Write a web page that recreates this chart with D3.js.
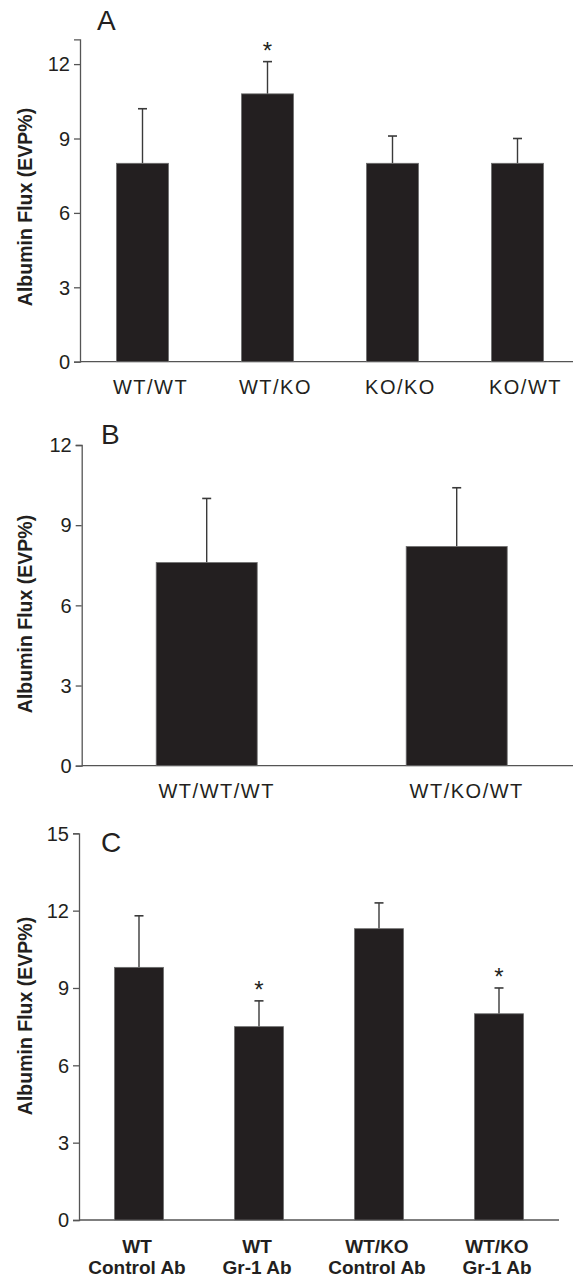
<!DOCTYPE html>
<html>
<head>
<meta charset="utf-8">
<script src="https://cdn.jsdelivr.net/npm/d3@7"></script>
<style>
  html, body { margin: 0; padding: 0; background: #fff; }
  svg { display: block; }
  text { font-family: Arial, "Liberation Sans", Helvetica, sans-serif; fill: #231f20; }
</style>
</head>
<body>
<svg id="chart" width="574" height="1279"></svg>
<script>
// ---- Data ----
const categoriesA = ["WT/WT", "WT/KO", "KO/KO", "KO/WT"];
const valuesA = [8.0, 10.8, 8.0, 8.0];
const errorsA = [2.2, 1.3, 1.1, 1.0];
const starsA = [false, true, false, false];
const ticksA = [0, 3, 6, 9, 12];

const categoriesB = ["WT/WT/WT", "WT/KO/WT"];
const valuesB = [7.6, 8.2];
const errorsB = [2.4, 2.2];
const starsB = [false, false];
const ticksB = [0, 3, 6, 9, 12];

const categoriesC = [["WT", "Control Ab"], ["WT", "Gr-1 Ab"], ["WT/KO", "Control Ab"], ["WT/KO", "Gr-1 Ab"]];
const valuesC = [9.8, 7.5, 11.3, 8.0];
const errorsC = [2.0, 1.0, 1.0, 1.0];
const starsC = [false, true, false, true];
const ticksC = [0, 3, 6, 9, 12, 15];

const yTitle = "Albumin Flux (EVP%)";

// ---- Drawing ----
const svg = d3.select("#chart");
const axisColor = "#555";
const barColor = "#231f20";

function panel(cfg) {
  const g = svg.append("g");
  const y = d3.scaleLinear().domain([0, cfg.yMax]).range([cfg.y0, cfg.yTop]);
  const x = d3.scalePoint().domain(d3.range(cfg.values.length)).range([cfg.x0, cfg.x0 + cfg.step * cfg.values.length]).padding(0.5);

  // y axis
  const yAxis = d3.axisLeft(y).tickValues(cfg.ticks).tickSize(6).tickPadding(4).tickFormat(d3.format("d"));
  const ya = g.append("g").attr("transform", `translate(${cfg.x0},0)`).call(yAxis);
  ya.attr("font-size", null).attr("font-family", null);
  ya.select(".domain").attr("stroke", axisColor).attr("stroke-width", 1.3);
  ya.selectAll(".tick line").attr("stroke", axisColor).attr("stroke-width", 1.3);
  ya.selectAll(".tick text").style("font-size", "20px").attr("fill", "#231f20").attr("dy", "0.34em");

  // x axis baseline
  g.append("line")
    .attr("x1", cfg.x0).attr("x2", cfg.xEnd)
    .attr("y1", y(0)).attr("y2", y(0))
    .attr("stroke", axisColor).attr("stroke-width", 1.3);

  // error bars
  cfg.values.forEach((v, i) => {
    const cx = x(i);
    g.append("line").attr("x1", cx).attr("x2", cx)
      .attr("y1", y(v)).attr("y2", y(v + cfg.errors[i]))
      .attr("stroke", "#3a3a3a").attr("stroke-width", 1.4);
    g.append("line").attr("x1", cx - 4.5).attr("x2", cx + 4.5)
      .attr("y1", y(v + cfg.errors[i])).attr("y2", y(v + cfg.errors[i]))
      .attr("stroke", "#3a3a3a").attr("stroke-width", 1.6);
    if (cfg.stars[i]) {
      g.append("text").attr("x", cx).attr("y", y(v + cfg.errors[i]) - 3)
        .attr("text-anchor", "middle").style("font-size", "24px").text("*");
    }
  });

  // bars
  g.selectAll("rect.bar").data(cfg.values).join("rect")
    .attr("class", "bar")
    .attr("x", (d, i) => x(i) - cfg.barW / 2)
    .attr("width", cfg.barW)
    .attr("y", d => y(d))
    .attr("height", d => y(0) - y(d))
    .attr("fill", barColor)
    .attr("stroke", "#6d6d6d").attr("stroke-width", 0.8);

  // x labels
  cfg.categories.forEach((c, i) => {
    const lines = Array.isArray(c) ? c : [c];
    const t = g.append("text")
      .attr("x", x(i) + cfg.labelDx)
      .attr("y", cfg.labelY)
      .attr("text-anchor", "middle")
      .style("font-size", cfg.labelSize + "px")
      .attr("font-weight", cfg.labelBold ? "bold" : "normal")
      .attr("letter-spacing", cfg.labelSpacing);
    lines.forEach((l, k) => {
      t.append("tspan").attr("x", x(i) + cfg.labelDx).attr("dy", k === 0 ? 0 : cfg.lineH).text(l);
    });
  });

  // y title
  g.append("text")
    .attr("transform", `translate(${cfg.titleX},${cfg.titleY}) rotate(-90)`)
    .attr("text-anchor", "middle")
    .style("font-size", "19.5px")
    .attr("font-weight", "bold")
    .text(yTitle);

  // panel letter
  g.append("text").attr("x", cfg.letterX).attr("y", cfg.letterY)
    .style("font-size", "28px").text(cfg.letter);
}

panel({
  letter: "A", letterX: 97, letterY: 30,
  categories: categoriesA, values: valuesA, errors: errorsA, stars: starsA, ticks: ticksA,
  yMax: 13, y0: 361.7, yTop: 39.3, x0: 80, step: 125, xEnd: 573, barW: 52,
  labelY: 394, labelDx: 8, labelSize: 20, labelSpacing: 1.5, labelBold: false, lineH: 0,
  titleX: 32, titleY: 207
});

panel({
  letter: "B", letterX: 101, letterY: 444,
  categories: categoriesB, values: valuesB, errors: errorsB, stars: starsB, ticks: ticksB,
  yMax: 12, y0: 765.7, yTop: 445, x0: 81.7, step: 250, xEnd: 573, barW: 101,
  labelY: 798, labelDx: 10, labelSize: 20, labelSpacing: 1.5, labelBold: false, lineH: 0,
  titleX: 32, titleY: 614
});

panel({
  letter: "C", letterX: 101, letterY: 852,
  categories: categoriesC, values: valuesC, errors: errorsC, stars: starsC, ticks: ticksC,
  yMax: 15, y0: 1220, yTop: 833.3, x0: 79, step: 120, xEnd: 559, barW: 49,
  labelY: 1253, labelDx: -2, labelSize: 19, labelSpacing: 0, labelBold: true, lineH: 21,
  titleX: 32, titleY: 1016
});
</script>
</body>
</html>
